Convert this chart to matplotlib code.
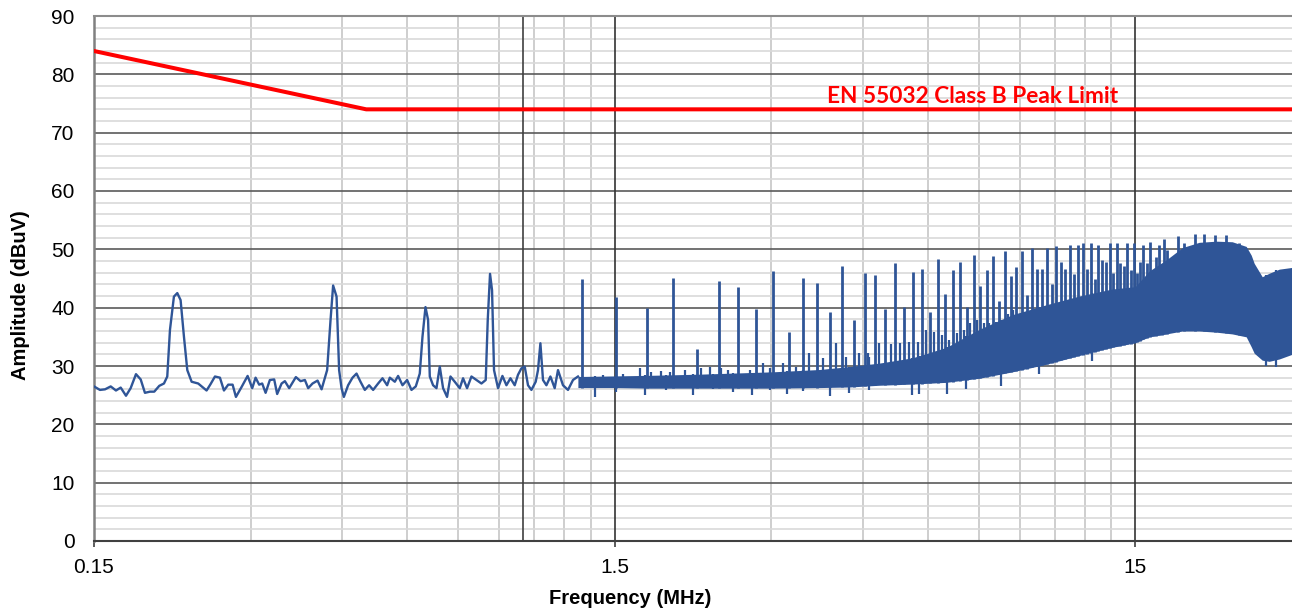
import numpy as np
import matplotlib
matplotlib.use("Agg")
import matplotlib.pyplot as plt
from matplotlib.ticker import NullFormatter

# measured trace, 0.15 - 1.28 MHz (MHz, dBuV)
low_f = [0.150, 0.1540, 0.1575, 0.1615, 0.1653, 0.1688, 0.1728, 0.1764, 0.1806, 0.1844,
         0.1879, 0.1921, 0.1958, 0.2002, 0.2044, 0.2074, 0.2099, 0.2136, 0.2168, 0.2200,
         0.2233, 0.2266, 0.2310, 0.2378, 0.2468, 0.2512, 0.2561, 0.2618, 0.2665, 0.2716,
         0.2769, 0.2810, 0.2881, 0.2959, 0.3020, 0.3065, 0.3114, 0.3156, 0.3204, 0.3265,
         0.3328, 0.3372, 0.3439, 0.3489, 0.3556, 0.3663, 0.3740, 0.3812, 0.3868, 0.3943,
         0.4032, 0.4104, 0.4206, 0.4270, 0.4319, 0.4385, 0.4435, 0.4483, 0.4529, 0.4615,
         0.4706, 0.4790, 0.4875, 0.4969, 0.5064, 0.5155, 0.5270, 0.5373, 0.5484, 0.5550,
         0.5674, 0.5757, 0.5870, 0.5991, 0.6108, 0.6225, 0.6336, 0.6412, 0.6498, 0.6573,
         0.6623, 0.6720, 0.6822, 0.6922, 0.7024, 0.7149, 0.7257, 0.7396, 0.7562, 0.7673,
         0.7810, 0.7963, 0.8141, 0.8323, 0.8482, 0.8558, 0.8645, 0.8722, 0.8799, 0.8956,
         0.9132, 0.9295, 0.9461, 0.9642, 0.9784, 0.9932, 1.0078, 1.0226, 1.0381, 1.0580,
         1.0688, 1.0802, 1.0927, 1.1093, 1.1291, 1.1507, 1.1676, 1.1937, 1.2204, 1.2477,
         1.2755]
low_db = [26.5, 25.9, 26.0, 26.5, 25.8, 26.3, 24.9, 26.2, 28.6, 27.7,
          25.4, 25.6, 25.6, 26.6, 27.0, 28.2, 36.2, 41.9, 42.5, 41.3,
          35.0, 29.3, 27.3, 27.0, 25.8, 26.9, 28.2, 28.0, 25.8, 26.8,
          26.8, 24.7, 26.4, 28.3, 26.2, 28.0, 26.8, 27.0, 25.4, 27.6,
          27.7, 25.2, 27.0, 27.4, 26.2, 28.1, 27.4, 27.6, 26.2, 27.0,
          27.5, 26.0, 29.3, 37.9, 43.8, 41.9, 29.3, 26.2, 24.7, 26.7,
          28.0, 28.7, 27.3, 25.9, 26.7, 25.9, 27.0, 27.9, 26.7, 28.0,
          27.3, 28.3, 26.7, 27.6, 25.9, 26.5, 28.7, 35.0, 40.1, 37.9,
          28.2, 26.7, 26.2, 29.9, 26.2, 24.7, 28.2, 27.3, 26.2, 27.9,
          26.2, 28.2, 27.6, 27.0, 27.6, 37.9, 45.8, 43.0, 29.3, 26.2,
          28.3, 26.7, 27.9, 26.7, 28.5, 29.6, 29.9, 26.7, 25.9, 27.3,
          29.3, 33.9, 27.6, 26.7, 28.2, 26.2, 29.3, 26.7, 25.9, 27.6,
          28.2]

# noise band envelope above 1.28 MHz
band_f = [1.275, 1.500, 1.751, 2.184, 3.016, 3.712, 4.238, 4.839, 5.598, 6.506,
          7.528, 8.710, 10.12, 11.71, 13.55, 15.00, 15.96, 17.21, 18.47, 19.90,
          21.46, 23.03, 24.50, 25.05, 25.38, 26.30, 27.12, 28.35, 30.00]
band_lo = [26.3, 26.3, 26.2, 26.2, 26.2, 26.3, 26.4, 26.7, 26.9, 27.2,
           27.9, 29.0, 30.3, 31.8, 33.2, 34.0, 35.0, 35.5, 36.0, 36.0,
           35.8, 35.5, 35.0, 33.3, 32.2, 31.0, 30.8, 31.2, 32.0]
band_hi = [28.2, 28.3, 28.4, 28.6, 29.0, 29.4, 29.9, 30.5, 31.4, 33.2,
           36.3, 38.8, 40.5, 42.0, 43.2, 43.6, 46.3, 48.2, 50.3, 51.2,
           51.4, 51.3, 50.5, 49.0, 47.6, 45.3, 45.9, 46.6, 46.9]

# harmonic peaks
harm_f = [1.296, 1.512, 1.728, 1.944, 2.160, 2.376, 2.592, 2.808, 3.024, 3.240,
          3.456, 3.672, 3.888, 4.104, 4.320, 4.536, 4.752, 4.968, 5.184, 5.400,
          5.616, 5.832, 6.048, 6.264, 6.480, 6.696, 6.912, 7.128, 7.344, 7.560,
          7.776, 7.992, 8.208, 8.424, 8.640, 8.856, 9.072, 9.288, 9.504, 9.720,
          9.936, 10.152, 10.368, 10.584, 10.800, 11.016, 11.232, 11.448, 11.664, 11.880,
          12.096, 12.312, 12.528, 12.744, 12.960, 13.176, 13.392, 13.608, 13.824, 14.040,
          14.256, 14.472, 14.688, 14.904, 15.120, 15.336, 15.552, 15.768, 15.984, 16.200,
          16.416, 16.632, 16.848, 17.064, 17.280,
          18.13, 18.63, 19.56, 20.36, 21.36, 22.42, 23.75]
harm_db = [44.9, 41.9, 39.9, 45.1, 33.0, 44.5, 43.6, 39.8, 46.3, 35.9,
           45.1, 44.3, 39.3, 47.1, 37.9, 45.9, 45.6, 39.8, 47.6, 40.1,
           46.1, 46.7, 39.3, 48.3, 42.3, 46.5, 47.8, 40.2, 49.1, 43.8,
           46.5, 48.9, 41.2, 49.7, 45.5, 46.9, 49.8, 42.1, 50.2, 46.6,
           46.7, 50.3, 44.1, 50.5, 47.8, 46.7, 50.7, 45.8, 50.7, 51.1,
           46.7, 51.1, 45.0, 50.7, 48.2, 47.9, 51.0, 45.9, 51.0, 47.6,
           47.1, 51.0, 46.5, 51.1, 46.0, 47.9, 50.7, 47.6, 51.3, 46.5,
           48.7, 50.7, 47.5, 51.7, 49.9,
           52.2, 51.0, 52.6, 52.6, 52.4, 52.4, 51.1]

# smaller noise spikes above the floor
minor_f = [1.424, 1.556, 1.681, 1.764, 1.844, 1.913, 2.044, 2.201, 2.283, 2.404,
           2.475, 2.724, 2.889, 2.976, 3.156, 3.349, 3.551, 3.767, 3.997, 4.177,
           4.430, 4.596, 4.630, 4.839, 5.095, 5.302, 5.525, 5.731, 5.948, 6.170,
           6.383, 6.593, 6.809, 7.023, 7.234, 7.452, 7.672, 7.868, 8.104, 8.307,
           8.531, 8.748]
minor_db = [28.5, 28.6, 29.6, 29.0, 29.1, 29.0, 29.3, 29.6, 29.8, 29.6,
            29.3, 29.3, 30.5, 29.6, 30.5, 29.9, 32.2, 31.3, 33.9, 31.6,
            32.2, 32.2, 31.6, 33.9, 33.7, 34.0, 34.1, 34.1, 36.2, 35.9,
            35.3, 34.5, 35.6, 36.2, 37.3, 37.9, 37.3, 37.3, 37.6, 37.9,
            39.0, 39.6]

# downward dips of the noise floor
dip_f = [1.373, 1.511, 1.713, 1.885, 2.117, 2.316, 2.530, 2.748, 2.976, 3.208,
         3.447, 3.880, 4.238, 4.630, 5.598, 5.774, 6.535, 7.108, 8.296, 9.813,
         12.40, 26.76, 27.98]
dip_db = [24.7, 25.5, 25.0, 25.9, 25.0, 26.0, 25.5, 25.0, 25.9, 25.2,
          25.7, 24.9, 25.3, 25.9, 25.0, 25.2, 25.2, 26.0, 26.5, 28.6,
          30.9, 30.0, 29.9]

# EN 55032 class B peak limit
lim_f = [0.15, 0.5, 30.0]
lim_db = [84, 74, 74]

blue = "#2F5597"
red = "#FF0000"

plt.rcParams["font.family"] = ["Liberation Sans", "DejaVu Sans"]

fig = plt.figure(figsize=(12.92, 6.14), dpi=100)
ax = fig.add_axes([94 / 1292, 73 / 614, 1198 / 1292, 525 / 614])

ax.set_xscale("log")
ax.set_xlim(0.15, 30)
ax.set_ylim(0, 90)

# grid
x_major = [0.15, 1.5, 15]
ax.set_xticks(x_major)
ax.set_xticklabels(["0.15", "1.5", "15"])
ax.set_xticks([0.3, 0.45, 0.6, 0.75, 0.9, 1.05, 1.2, 1.35,
               3, 4.5, 6, 7.5, 9, 10.5, 12, 13.5], minor=True)
ax.xaxis.set_minor_formatter(NullFormatter())
ax.set_yticks(np.arange(0, 91, 10))
ax.set_yticks(np.arange(0, 91, 2), minor=True)
ax.xaxis.grid(True, which="minor", color="#c6c6c6", lw=1.2)
ax.yaxis.grid(True, which="minor", color="#d9d9d9", lw=1.2)
for yv in np.arange(10, 90, 10):
    ax.axhline(yv, color="#5a5a5a", lw=1.2, zorder=1)
for xv in x_major[1:]:
    ax.axvline(xv, color="#333333", lw=1.2, zorder=1.1)
ax.axvline(1.0, color="#404040", lw=1.2, zorder=1.1)
ax.set_axisbelow(True)

# data
lo_interp = np.interp(np.log10(harm_f), np.log10(band_f), band_lo)
ax.fill_between(band_f, band_lo, band_hi, color=blue, lw=0, zorder=3)
ax.vlines(harm_f, lo_interp, harm_db, color=blue, lw=2.0, zorder=3)
minor_lo = np.interp(np.log10(minor_f), np.log10(band_f), band_lo)
ax.vlines(minor_f, minor_lo, minor_db, color=blue, lw=1.6, zorder=3)
dip_hi = np.interp(np.log10(dip_f), np.log10(band_f), band_hi)
ax.vlines(dip_f, dip_db, dip_hi, color=blue, lw=1.6, zorder=3)
ax.plot(low_f, low_db, color=blue, lw=1.7, zorder=3)

ax.plot(lim_f, lim_db, color=red, lw=2.9, zorder=4)
ax.text(3.83, 75.1, "EN 55032 Class B Peak Limit", color=red, fontsize=16.3,
        fontweight="bold", family=["Lato", "DejaVu Sans"], ha="left", va="baseline", zorder=5)

# axes styling
ax.spines["right"].set_visible(False)
ax.spines["left"].set_color("#808080")
ax.spines["left"].set_linewidth(1.8)
ax.spines["bottom"].set_color("#404040")
ax.spines["bottom"].set_linewidth(1.5)
ax.spines["top"].set_color("#8c8c8c")
ax.spines["top"].set_linewidth(1.5)

ax.tick_params(axis="x", which="major", length=4, width=1.2, color="#404040",
               labelsize=15, pad=8)
ax.tick_params(axis="x", which="minor", length=0)
ax.tick_params(axis="y", which="both", length=0, labelsize=15, pad=14)

ax.set_xlabel("Frequency (MHz)", fontsize=14.5, fontweight="bold")
ax.set_ylabel("Amplitude (dBuV)", fontsize=14.5, fontweight="bold")
ax.xaxis.set_label_coords(0.4474, -0.0914)
ax.yaxis.set_label_coords(-0.0534, 0.469)

fig.savefig("out.png", dpi=100, facecolor="white")
